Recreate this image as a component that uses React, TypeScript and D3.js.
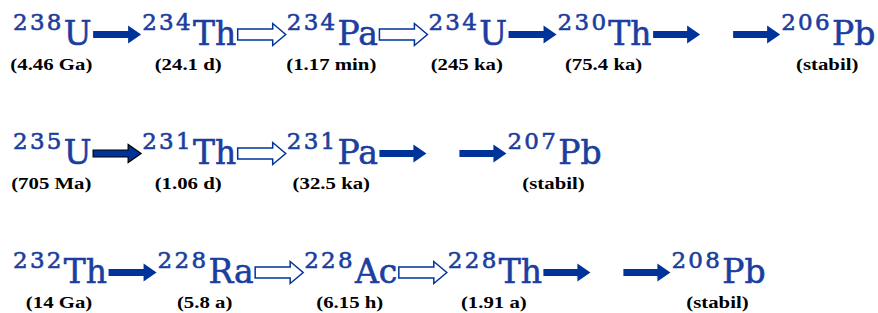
import React, { useEffect, useRef } from 'react';
import * as d3 from 'd3';

const width = 878;
const height = 313;

// uranium-radium series
const masses238 = ['238', '234', '234', '234', '230', '206'];
const elements238 = ['U', 'Th', 'Pa', 'U', 'Th', 'Pb'];
const halfLives238 = ['(4.46 Ga)', '(24.1 d)', '(1.17 min)', '(245 ka)', '(75.4 ka)', '(stabil)'];
const links238 = ['alpha', 'beta', 'beta', 'alpha', 'chain'];

// actinium series
const masses235 = ['235', '231', '231', '207'];
const elements235 = ['U', 'Th', 'Pa', 'Pb'];
const halfLives235 = ['(705 Ma)', '(1.06 d)', '(32.5 ka)', '(stabil)'];
const links235 = ['alphaDark', 'beta', 'chain'];

// thorium series
const masses232 = ['232', '228', '228', '228', '208'];
const elements232 = ['Th', 'Ra', 'Ac', 'Th', 'Pb'];
const halfLives232 = ['(14 Ga)', '(5.8 a)', '(6.15 h)', '(1.91 a)', '(stabil)'];
const links232 = ['alpha', 'beta', 'beta', 'chain'];

const rows = [
  { masses: masses238, elements: elements238, halfLives: halfLives238, links: links238 },
  { masses: masses235, elements: elements235, halfLives: halfLives235, links: links235 },
  { masses: masses232, elements: elements232, halfLives: halfLives232, links: links232 },
];

const blue = '#1b3e9f';
const arrowBlue = '#003399';
const serif = "'DejaVu Serif', DejaVuSerif, 'Noto Serif', 'Liberation Serif', Tinos, FreeSerif, Georgia, serif";
const timesBold = "'Liberation Serif', LiberationSerif, Tinos, 'Times New Roman', Times, 'Noto Serif', 'DejaVu Serif', serif";

export default function App() {
  const ref = useRef<SVGSVGElement>(null);

  useEffect(() => {
    const svg = d3.select(ref.current);
    svg.selectAll('*').remove();

    const yRow = d3.scaleLinear().domain([0, rows.length - 1]).range([45, 283]);
    const line = d3.line();

    const arrow = (g, x0, cy, len, shaftH, headH, headLen) => {
      const xs = x0 + len - headLen;
      const pts: [number, number][] = [
        [x0, cy - shaftH / 2],
        [xs, cy - shaftH / 2],
        [xs, cy - headH / 2],
        [x0 + len, cy],
        [xs, cy + headH / 2],
        [xs, cy + shaftH / 2],
        [x0, cy + shaftH / 2],
      ];
      return g.append('path').attr('d', line(pts) + 'Z');
    };

    rows.forEach((row, ri) => {
      const base = yRow(ri);
      const cy = base - 10.5;
      const g = svg.append('g');
      let x = 13;

      row.masses.forEach((m, i) => {
        const t = g.append('text')
          .attr('x', x)
          .attr('y', base)
          .style('font-family', serif)
          .attr('fill', blue)
          .attr('stroke', blue)
          .attr('stroke-width', 0.6);
        t.append('tspan')
          .attr('font-size', 23)
          .attr('letter-spacing', 2.3)
          .attr('dy', -15)
          .text(m);
        t.append('tspan')
          .attr('font-size', 33)
          .attr('dy', 15)
          .text(row.elements[i]);

        const w = (t.node() as SVGTextElement).getBBox().width;

        g.append('text')
          .attr('transform', `translate(${x + w / 2 - 1},${base + 25}) scale(1.3,1)`)
          .attr('text-anchor', 'middle')
          .style('font-family', timesBold)
          .attr('font-weight', 'bold')
          .attr('font-size', 16)
          .attr('fill', '#000')
          .text(row.halfLives[i]);

        x += w;
        const link = row.links[i];
        if (!link) return;
        x += 1.5;
        if (link === 'beta') {
          arrow(g, x, cy, 48, 11, 22, 13)
            .attr('fill', '#fff')
            .attr('stroke', arrowBlue)
            .attr('stroke-width', 1.5);
          x += 48;
        } else if (link === 'chain') {
          arrow(g, x, cy, 47, 7, 18, 13).attr('fill', arrowBlue);
          x += 47 + 33;
          arrow(g, x, cy, 47, 7, 18, 13).attr('fill', arrowBlue);
          x += 47;
        } else {
          const a = arrow(g, x, cy, 48, 7, 18, 13).attr('fill', arrowBlue);
          if (link === 'alphaDark') a.attr('stroke', '#000').attr('stroke-width', 1.2);
          x += 48;
        }
        x += 1;
      });
    });
  }, []);

  return (
    <svg
      ref={ref}
      width={width}
      height={height}
      style={{ position: 'absolute', left: 0, top: 0, background: '#fff' }}
    />
  );
}
